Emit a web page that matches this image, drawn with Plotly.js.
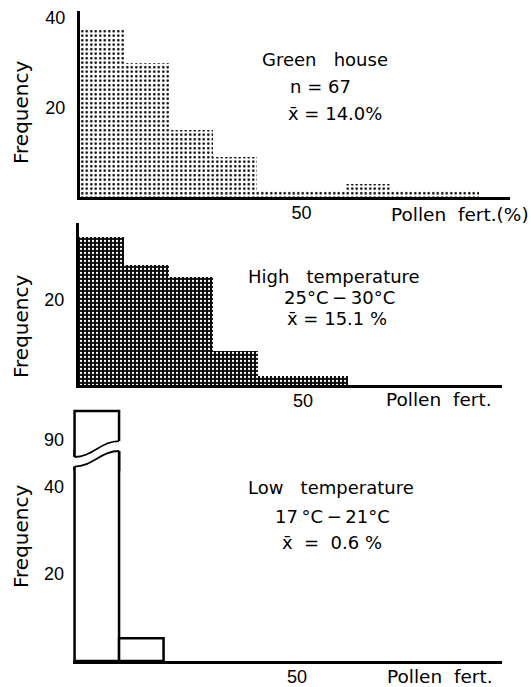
<!DOCTYPE html>
<html>
<head>
<meta charset="utf-8">
<script src="https://cdn.plot.ly/plotly-3.0.1.min.js"></script>
<style>
  html, body { margin: 0; padding: 0; background: #fff; overflow: hidden; }
  #chart { width: 531px; height: 687px; }
</style>
</head>
<body>
<div id="chart"></div>
<script>
// ---------- data (frequency in %, pollen fertility bins of 10 %) ----------
const binWidth = 10;
const ghBins = [0, 10, 20, 30, 40, 50, 60, 70, 80];
const ghFreq = [37.3, 29.9, 14.9, 9.0, 1.5, 1.5, 3.0, 1.5, 1.5];
const htBins = [0, 10, 20, 30, 40, 50];
const htFreq = [34.6, 28.0, 25.2, 7.9, 2.1, 2.1];
const ltBins = [0, 10];
const ltFreq = [94.8, 5.2];

const ghYTicks = [20, 40];
const htYTicks = [20];
const ltYTicksLow = [20, 40];
const ltYTicksHigh = [90];
const xTicks = [50];

const ghLines = ["Green\u00a0\u00a0 house", "n = 67", "x\u0304 = 14.0%"];
const htLines = ["High\u00a0\u00a0 temperature", "25\u00b0C\u2009\u2212\u200930\u00b0C", "x\u0304 = 15.1 %"];
const ltLines = ["Low\u00a0\u00a0 temperature", "17\u2009\u00b0C\u2009\u2212\u200921\u00b0C", "x\u0304\u00a0 = \u00a00.6 %"];
const yTitle = "Frequency";
const xTitles = ["Pollen\u00a0 fert.(%)", "Pollen\u00a0 fert.", "Pollen\u00a0 fert."];

// broken-axis wave edges of the low-temperature panel (upper-axis units, left/right)
const upperEdge = [87.19, 89.83];
const lowerEdge = [85.61, 88.18];

// ---------- helpers ----------
const W = 531, H = 687;
const dx = p => p / W;
const dy = p => 1 - p / H;
const mids = bins => bins.map(b => b + binWidth / 2);

const tickFont = { family: "Liberation Sans, Arial, sans-serif", size: 18, color: "#000" };
const txtFont = { family: "DejaVu Sans, sans-serif", size: 18, color: "#000" };

const traces = [
  {
    type: "bar", x: mids(ghBins), y: ghFreq, width: binWidth,
    xaxis: "x", yaxis: "y",
    marker: { color: "#fff", line: { width: 0 },
      pattern: { shape: ".", size: 4.5, solidity: 0.24, fgcolor: "#000", bgcolor: "#fff", fillmode: "replace" } },
    hoverinfo: "skip"
  },
  {
    type: "bar", x: mids(htBins), y: htFreq, width: binWidth,
    xaxis: "x2", yaxis: "y2",
    marker: { color: "#111", line: { width: 0 },
      pattern: { shape: ".", size: 4, solidity: 0.25, fgcolor: "#fff", bgcolor: "#0a0a0a", fillmode: "replace" } },
    hoverinfo: "skip"
  },
  {
    type: "bar", x: mids(ltBins), y: ltFreq, width: binWidth,
    xaxis: "x3", yaxis: "y3",
    marker: { color: "#fff", line: { color: "#000", width: 2.5 } },
    hoverinfo: "skip"
  },
  {
    type: "bar", x: mids(ltBins), y: ltFreq, width: binWidth,
    xaxis: "x3", yaxis: "y4",
    marker: { color: "#fff", line: { color: "#000", width: 2.5 } },
    hoverinfo: "skip"
  }
];

function xax(domain, range, anchor) {
  return {
    domain: domain, range: range, anchor: anchor,
    showline: true, linewidth: 3, linecolor: "#000",
    tickmode: "array", tickvals: xTicks, ticktext: xTicks.map(String),
    ticks: "", ticklabelstandoff: -3,
    showgrid: false, zeroline: false, tickfont: tickFont, fixedrange: true
  };
}
function yax(domain, range, anchor, ticks, showline) {
  return {
    domain: domain, range: range, anchor: anchor,
    showline: showline, linewidth: 3, linecolor: "#000",
    tickmode: "array", tickvals: ticks, ticktext: ticks.map(String),
    ticks: "", ticklabelstandoff: 8,
    showgrid: false, zeroline: false, tickfont: tickFont, fixedrange: true
  };
}

const annotations = [];
function addText(text, px, py, opts) {
  annotations.push(Object.assign({
    text: text, xref: "paper", yref: "paper", x: dx(px), y: dy(py),
    xanchor: "center", yanchor: "middle", showarrow: false, font: txtFont
  }, opts || {}));
}
// panel texts
[[325, 60], [320, 87], [335, 113]].forEach((p, i) => addText(ghLines[i], p[0], p[1]));
[[334, 276], [339, 297], [337, 318]].forEach((p, i) => addText(htLines[i], p[0], p[1]));
[[331, 487], [332, 516], [332, 542]].forEach((p, i) => addText(ltLines[i], p[0], p[1]));
// y titles
[[21, 113], [21, 327], [21, 537]].forEach(p =>
  addText(yTitle, p[0], p[1], { textangle: -90, font: { family: "DejaVu Sans, sans-serif", size: 20, color: "#000" } }));
// x titles
const xTitleFont = { family: "DejaVu Sans, sans-serif", size: 18.5, color: "#000" };
[[389, 214], [384, 400], [385, 676]].forEach((p, i) =>
  addText(xTitles[i], p[0], p[1], { xanchor: "left", font: xTitleFont }));

// broken-axis gap: white band between the two wavy edges, then the edges
function wave(e) {
  return `M 0,${e[0]} C 4,${e[0]} 6,${e[1]} 10,${e[1]}`;
}
const band =
  `M -1,${upperEdge[0]} L 0,${upperEdge[0]} C 4,${upperEdge[0]} 6,${upperEdge[1]} 10,${upperEdge[1]} ` +
  `L 11,${upperEdge[1]} L 11,${lowerEdge[1]} L 10,${lowerEdge[1]} ` +
  `C 6,${lowerEdge[1]} 4,${lowerEdge[0]} 0,${lowerEdge[0]} L -1,${lowerEdge[0]} Z`;
const shapes = [
  { type: "path", xref: "x3", yref: "y4", layer: "above",
    path: band, fillcolor: "#fff", line: { width: 0 } },
  { type: "path", xref: "x3", yref: "y4", layer: "above",
    path: wave(upperEdge), line: { color: "#000", width: 1.8 } },
  { type: "path", xref: "x3", yref: "y4", layer: "above",
    path: wave(lowerEdge), line: { color: "#000", width: 1.8 } }
];

const layout = {
  width: W, height: H,
  margin: { l: 0, r: 0, t: 0, b: 0, pad: 0 },
  paper_bgcolor: "#fff", plot_bgcolor: "rgba(0,0,0,0)",
  showlegend: false, bargap: 0,
  font: txtFont,
  xaxis: xax([dx(80), dx(510)], [0, 97.1], "y"),
  yaxis: yax([dy(197), dy(11)], [0, 41.5], "x", ghYTicks, true),
  xaxis2: xax([dx(79), dx(502)], [0, 94.4], "y2"),
  yaxis2: yax([dy(385), dy(223)], [0, 37.85], "x2", htYTicks, true),
  xaxis3: xax([dx(73), dx(502)], [-0.35, 96.05], "y3"),
  yaxis3: yax([dy(661), dy(450)], [0, 48.3], "x3", ltYTicksLow, false),
  yaxis4: yax([dy(471), dy(409)], [84.87, 95.13], "x3", ltYTicksHigh, false),
  annotations: annotations,
  shapes: shapes
};

Plotly.newPlot("chart", traces, layout, { staticPlot: true, displayModeBar: false });
</script>
</body>
</html>
